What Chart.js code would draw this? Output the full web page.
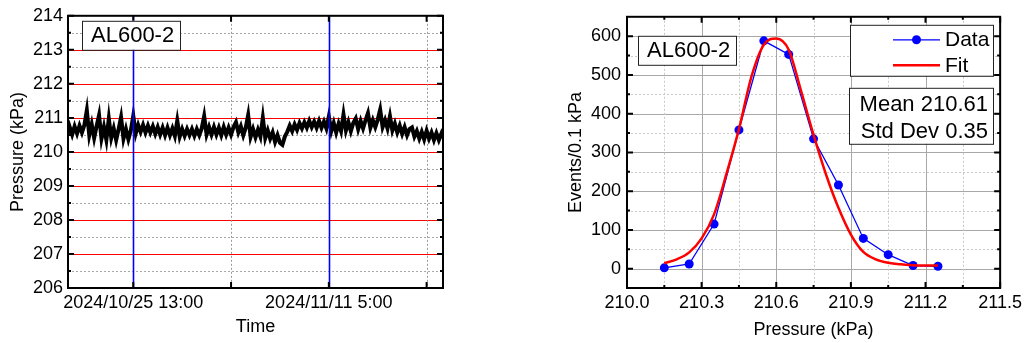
<!DOCTYPE html>
<html lang="en">
<head>
    <meta charset="UTF-8">
    <title>AL600-2 Pressure</title>
    <script src="https://cdn.jsdelivr.net/npm/chart.js@4.4.1/dist/chart.umd.min.js"></script>
    <style>
        body { margin: 0; background: #fff; }
        #wrap { position: relative; width: 1026px; height: 343px; background: #fff; }
        canvas { position: absolute; top: 0; }
    </style>
</head>
<body>
    <div id="wrap">
        <canvas id="timeChart" width="470" height="343" style="left:0"></canvas>
        <canvas id="histChart" width="496" height="343" style="left:530px"></canvas>
    </div>

    <script>
        // Left panel: pressure vs time (hours since 2024/10/25 13:00)
        const timeHours = [
            -133, -130, -125, -120, -115, -110, -105, -100, -95, -90, -85, -80, -75, -70, -65, -60, -55, -50, -45, -40,
            -35, -30, -25, -20, -15, -10, -5, 0, 5, 10, 15, 20, 25, 30, 35, 40, 45, 50, 55, 60,
            65, 70, 75, 80, 85, 90, 95, 100, 105, 110, 115, 120, 125, 130, 135, 140, 145, 150, 155, 160,
            165, 170, 175, 180, 185, 190, 195, 200, 205, 210, 215, 220, 225, 230, 235, 240, 245, 250, 255, 260,
            265, 270, 275, 280, 285, 290, 295, 300, 305, 310, 315, 320, 325, 330, 335, 340, 345, 350, 355, 360,
            365, 370, 375, 380, 385, 390, 395, 400, 405, 410, 415, 420, 425, 430, 435, 440, 445, 450, 455, 460,
            465, 470, 475, 480, 485, 490, 495, 500, 505, 510, 515, 520, 525, 530, 535, 540, 545, 550, 555, 560,
            565, 570, 575, 580, 585, 590, 595, 600, 605, 610, 615, 620, 625, 630, 633
        ];
        const pressure = [
            210.54, 210.73, 210.51, 210.75, 210.54, 210.77, 210.57, 210.79, 211.22, 210.49, 210.81, 210.41, 210.76, 211.08, 210.39, 210.73, 210.35, 210.98, 210.41, 210.69,
            210.35, 210.67, 211.02, 210.39, 210.67, 210.37, 210.63, 211.06, 210.54, 210.79, 210.59, 210.79, 210.57, 210.77, 210.57, 210.75, 210.53, 210.73, 210.51, 210.71,
            210.49, 210.71, 210.49, 210.69, 210.47, 210.92, 210.45, 210.67, 210.47, 210.67, 210.49, 210.67, 210.47, 210.67, 210.49, 210.69, 211.05, 210.51, 210.73, 210.51,
            210.73, 210.51, 210.71, 210.49, 210.73, 210.51, 210.71, 210.51, 210.73, 210.87, 210.57, 210.75, 210.49, 210.71, 211.08, 210.44, 210.67, 210.43, 210.65, 210.45,
            211.00, 210.41, 210.63, 210.39, 210.57, 210.29, 210.49, 210.27, 210.21, 210.45, 210.59, 210.77, 210.61, 210.81, 210.65, 210.85, 210.69, 210.87, 210.71, 210.91,
            210.73, 210.89, 210.71, 210.91, 210.71, 210.89, 210.69, 211.04, 210.61, 210.85, 210.57, 210.83, 210.61, 211.10, 210.63, 210.87, 210.61, 210.85, 210.98, 210.67,
            210.91, 210.69, 210.93, 211.14, 210.71, 210.93, 210.73, 210.95, 211.24, 210.73, 210.93, 210.69, 211.05, 210.63, 210.83, 210.57, 210.77, 210.53, 210.73, 210.49,
            210.67, 210.72, 210.45, 210.61, 210.39, 210.59, 210.37, 210.62, 210.39, 210.57, 210.35, 210.55, 210.35, 210.53, 210.40
        ];
        const xTickHours = [0, 200, 400, 600];
        const xTickLabels = ['2024/10/25 13:00', '', '2024/11/11 5:00', ''];

        // Right panel: histogram and gaussian fit
        const binCenters = [210.15, 210.25, 210.35, 210.45, 210.55, 210.65, 210.75, 210.85, 210.95, 211.05, 211.15, 211.25];
        const events = [2, 12, 115, 358, 588, 553, 335, 216, 78, 36, 8, 6];
        const fitX = [210.15, 210.20, 210.25, 210.30, 210.35, 210.40, 210.45, 210.50, 210.55, 210.60, 210.65, 210.70,
                      210.75, 210.80, 210.85, 210.90, 210.95, 211.00, 211.05, 211.10, 211.15, 211.20, 211.25];
        const fitY = [14, 24, 42, 78, 140, 245, 360, 495, 578, 594, 565, 458,
                      345, 243, 157, 88, 43, 24, 15, 11, 9, 8, 8];

        const FONT = "'Liberation Sans', Arial, sans-serif";
        Chart.defaults.font.family = FONT;
        Chart.defaults.color = '#000';

        function hLine(ctx, a, py, color, width, dash) {
            const y = Math.round(py) + 0.5;
            ctx.beginPath();
            ctx.strokeStyle = color; ctx.lineWidth = width; ctx.setLineDash(dash);
            ctx.moveTo(a.left, y); ctx.lineTo(a.right, y); ctx.stroke();
        }
        function vLine(ctx, a, px, color, width, dash) {
            const x = Math.round(px) + 0.5;
            ctx.beginPath();
            ctx.strokeStyle = color; ctx.lineWidth = width; ctx.setLineDash(dash);
            ctx.moveTo(x, a.top); ctx.lineTo(x, a.bottom); ctx.stroke();
        }
        function frame(ctx, a) {
            ctx.setLineDash([]);
            ctx.strokeStyle = '#000'; ctx.lineWidth = 2;
            ctx.strokeRect(a.left, a.top, a.right - a.left, a.bottom - a.top);
        }
        function yTick(ctx, a, py, len) {
            ctx.beginPath();
            ctx.moveTo(a.left, py); ctx.lineTo(a.left + len, py);
            ctx.moveTo(a.right, py); ctx.lineTo(a.right - len, py);
            ctx.stroke();
        }
        function xTick(ctx, a, px, len) {
            ctx.beginPath();
            ctx.moveTo(px, a.bottom); ctx.lineTo(px, a.bottom - len);
            ctx.moveTo(px, a.top); ctx.lineTo(px, a.top + len);
            ctx.stroke();
        }
        function textBox(ctx, x, y, w, h) {
            ctx.setLineDash([]);
            ctx.fillStyle = '#fff';
            ctx.fillRect(x, y, w, h);
            ctx.strokeStyle = '#222'; ctx.lineWidth = 1;
            ctx.strokeRect(x + 0.5, y + 0.5, w, h);
        }

        const timeFrame = {
            id: 'timeFrame',
            beforeDatasetsDraw(chart) {
                const { ctx, chartArea: a, scales: { x, y } } = chart;
                ctx.save();
                for (let v = y.min + 0.5; v < y.max; v += 0.5) {
                    const py = y.getPixelForValue(v);
                    if (Number.isInteger(v)) hLine(ctx, a, py, '#ff0000', 1.2, []);
                    else hLine(ctx, a, py, '#a8a8a8', 1, [2, 2]);
                }
                x.ticks.forEach((t, i) => {
                    if (!xTickLabels[i]) vLine(ctx, a, x.getPixelForValue(t.value), '#999999', 1, [2, 2]);
                });
                ctx.restore();
            },
            afterDatasetsDraw(chart) {
                const { ctx, chartArea: a, scales: { x, y } } = chart;
                ctx.save();
                x.ticks.forEach((t, i) => {
                    if (xTickLabels[i]) vLine(ctx, a, x.getPixelForValue(t.value), '#0000ff', 1.6, []);
                });
                frame(ctx, a);
                for (let v = y.min; v <= y.max; v += 0.5) {
                    yTick(ctx, a, y.getPixelForValue(v), Number.isInteger(v) ? 6 : 3);
                }
                x.ticks.forEach(t => xTick(ctx, a, x.getPixelForValue(t.value), 6));
                // label box
                textBox(ctx, a.left + 14, a.top + 5, 98, 29);
                ctx.fillStyle = '#000';
                ctx.font = '22px ' + FONT;
                ctx.textBaseline = 'middle';
                ctx.fillText('AL600-2', a.left + 23, a.top + 20);
                ctx.restore();
            }
        };

        const histFrame = {
            id: 'histFrame',
            beforeDatasetsDraw(chart) {
                const { ctx, chartArea: a, scales: { x, y } } = chart;
                ctx.save();
                const yt = y.ticks.map(t => t.value);
                const ys = yt[1] - yt[0];
                yt.forEach(v => {
                    hLine(ctx, a, y.getPixelForValue(v), '#a8a8a8', 1, []);
                    const m = v + ys / 2;
                    if (m < y.max) hLine(ctx, a, y.getPixelForValue(m), '#c8c8c8', 1, [2, 2]);
                });
                const xt = x.ticks.map(t => t.value);
                const xs = xt[1] - xt[0];
                xt.forEach(v => {
                    if (v > x.min + 1e-6 && v < x.max - 1e-6) vLine(ctx, a, x.getPixelForValue(v), '#a8a8a8', 1, []);
                    const m = v + xs / 2;
                    if (m < x.max) vLine(ctx, a, x.getPixelForValue(m), '#c8c8c8', 1, [2, 2]);
                });
                ctx.restore();
            },
            afterDatasetsDraw(chart) {
                const { ctx, chartArea: a, scales: { x, y } } = chart;
                ctx.save();
                frame(ctx, a);
                const yt = y.ticks.map(t => t.value);
                const ys = yt[1] - yt[0];
                yt.forEach(v => {
                    yTick(ctx, a, y.getPixelForValue(v), 6);
                    if (v + ys / 2 < y.max) yTick(ctx, a, y.getPixelForValue(v + ys / 2), 3);
                });
                const xt = x.ticks.map(t => t.value);
                const xs = xt[1] - xt[0];
                xt.forEach(v => {
                    xTick(ctx, a, x.getPixelForValue(v), 6);
                    if (v + xs / 2 < x.max) xTick(ctx, a, x.getPixelForValue(v + xs / 2), 3);
                });

                ctx.fillStyle = '#000';
                ctx.textBaseline = 'middle';
                // sample name
                textBox(ctx, a.left + 11, a.top + 19, 98, 29);
                ctx.fillStyle = '#000';
                ctx.font = '22px ' + FONT;
                ctx.fillText('AL600-2', a.left + 20, a.top + 34);

                // legend
                const fit = chart.data.datasets[0], dat = chart.data.datasets[1];
                textBox(ctx, a.left + 223, a.top + 8, 143, 51);
                const lx0 = a.left + 266, lx1 = a.left + 313;
                let ly = a.top + 23;
                ctx.beginPath();
                ctx.strokeStyle = dat.borderColor; ctx.lineWidth = dat.borderWidth;
                ctx.moveTo(lx0, ly); ctx.lineTo(lx1, ly); ctx.stroke();
                ctx.beginPath();
                ctx.fillStyle = dat.pointBackgroundColor;
                ctx.arc((lx0 + lx1) / 2, ly, dat.pointRadius, 0, Math.PI * 2);
                ctx.fill();
                ly = a.top + 48.5;
                ctx.beginPath();
                ctx.strokeStyle = fit.borderColor; ctx.lineWidth = fit.borderWidth;
                ctx.moveTo(lx0, ly); ctx.lineTo(lx1, ly); ctx.stroke();
                ctx.fillStyle = '#000';
                ctx.font = '21px ' + FONT;
                ctx.fillText('Data', a.left + 318, a.top + 23);
                ctx.fillText('Fit', a.left + 318, a.top + 49);

                // statistics
                textBox(ctx, a.left + 222, a.top + 71, 144, 56);
                ctx.fillStyle = '#000';
                ctx.font = '22px ' + FONT;
                ctx.textAlign = 'right';
                ctx.fillText('Mean 210.61', a.left + 361, a.top + 88);
                ctx.fillText('Std Dev 0.35', a.left + 361, a.top + 115);
                ctx.restore();
            }
        };

        new Chart(document.getElementById('timeChart'), {
            type: 'line',
            data: {
                datasets: [{
                    data: timeHours.map((h, i) => ({ x: h, y: pressure[i] })),
                    borderColor: '#000',
                    borderWidth: 4,
                    pointRadius: 0,
                    tension: 0
                }]
            },
            options: {
                responsive: false,
                animation: false,
                layout: { padding: { top: 9, right: 27, left: 0, bottom: 0 } },
                plugins: { legend: { display: false }, tooltip: { enabled: false } },
                scales: {
                    x: {
                        type: 'linear',
                        min: -133.5,
                        max: 633.5,
                        afterBuildTicks: s => { s.ticks = xTickHours.map(v => ({ value: v })); },
                        afterFit: s => { s.height = 55; },
                        grid: { display: false, drawTicks: false },
                        border: { display: false },
                        ticks: {
                            autoSkip: false, maxRotation: 0, padding: 4,
                            font: { size: 18 },
                            callback: (v, i) => xTickLabels[i]
                        },
                        title: { display: true, text: 'Time', font: { size: 18 }, padding: { bottom: 5 } }
                    },
                    y: {
                        min: 206,
                        max: 214,
                        afterFit: s => { s.width = 68; },
                        grid: { display: false, drawTicks: false },
                        border: { display: false },
                        ticks: { stepSize: 1, padding: 5, font: { size: 18 } },
                        title: { display: true, text: 'Pressure (kPa)', font: { size: 18 }, padding: { top: 7 } }
                    }
                }
            },
            plugins: [timeFrame]
        });

        new Chart(document.getElementById('histChart'), {
            type: 'line',
            data: {
                datasets: [{
                    label: 'Fit',
                    data: fitX.map((v, i) => ({ x: v, y: fitY[i] })),
                    borderColor: '#ff0000',
                    borderWidth: 2.5,
                    pointRadius: 0,
                    cubicInterpolationMode: 'monotone'
                }, {
                    label: 'Data',
                    data: binCenters.map((v, i) => ({ x: v, y: events[i] })),
                    borderColor: '#0000ff',
                    borderWidth: 1.3,
                    pointRadius: 4.5,
                    pointBackgroundColor: '#0000ff',
                    pointBorderWidth: 0,
                    tension: 0
                }]
            },
            options: {
                responsive: false,
                animation: false,
                layout: { padding: { top: 9, right: 24, left: 0, bottom: 0 } },
                plugins: { legend: { display: false }, tooltip: { enabled: false } },
                scales: {
                    x: {
                        type: 'linear',
                        min: 210.0,
                        max: 211.5,
                        afterFit: s => { s.height = 55; },
                        grid: { display: false, drawTicks: false },
                        border: { display: false },
                        ticks: {
                            stepSize: 0.3, padding: 4, maxRotation: 0, autoSkip: false,
                            font: { size: 18 },
                            callback: v => v.toFixed(1)
                        },
                        title: { display: true, text: 'Pressure (kPa)', font: { size: 18 }, padding: { bottom: 2 } }
                    },
                    y: {
                        min: -50,
                        max: 650,
                        afterBuildTicks: s => {
                            const t = [];
                            for (let v = Math.ceil(s.min / 100) * 100; v <= s.max; v += 100) t.push({ value: v });
                            s.ticks = t;
                        },
                        afterFit: s => { s.width = 97; },
                        grid: { display: false, drawTicks: false },
                        border: { display: false },
                        ticks: { padding: 6, font: { size: 18 } },
                        title: { display: true, text: 'Events/0.1 kPa', font: { size: 18 }, padding: { top: 35 } }
                    }
                }
            },
            plugins: [histFrame]
        });
    </script>
</body>
</html>
